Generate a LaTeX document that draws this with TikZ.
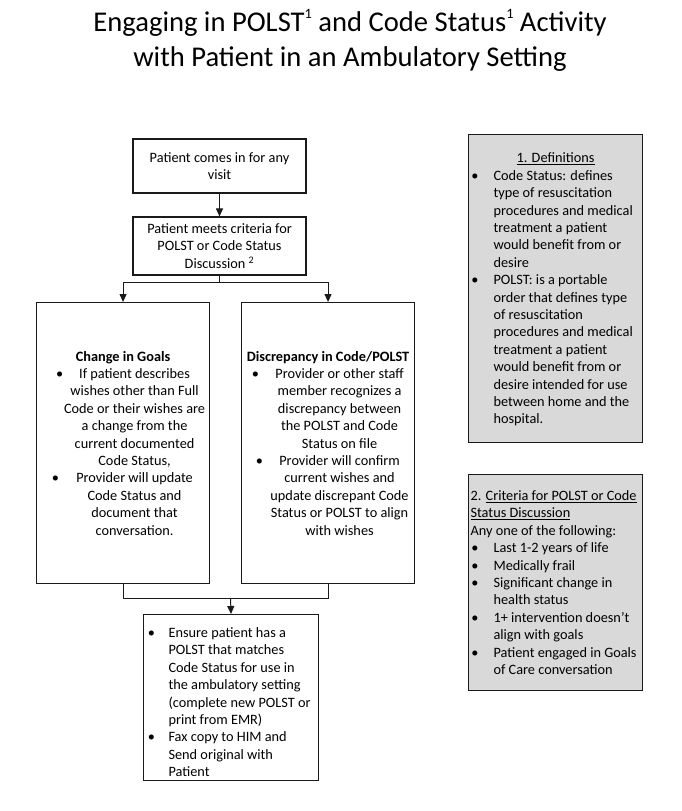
\documentclass[tikz,border=0pt]{standalone}
\usepackage{fontspec}
\setmainfont{Carlito}
\usetikzlibrary{arrows.meta}
\definecolor{boxgray}{HTML}{D9D9D9}
\definecolor{linecol}{HTML}{1A1A1A}
\newcommand\bitem[4]{\par\noindent\makebox[0pt][l]{\hspace*{#1pt}\textbullet}\hspace*{#2pt}\parbox[t]{#3pt}{#4\par\xdef\tpd{\the\prevdepth}}\par\prevdepth=\tpd\relax}
\newcommand\tsup[1]{\raisebox{13.4pt}{\fontsize{14.3}{14}\selectfont #1}}
\tikzset{
  box/.style={draw=linecol, line width=1.1pt, inner sep=0pt, font=\fontsize{14.3}{17.4}\selectfont},
  greybox/.style={box, fill=boxgray},
  conn/.style={draw=linecol, line width=1pt},
  arr/.style={conn, -{Triangle[width=7pt,length=8pt]}},
}
\begin{document}
\begin{tikzpicture}[x=1pt,y=-1pt]
\useasboundingbox (0,0) rectangle (682,811);
% title
\node[font=\fontsize{28.6}{35}\selectfont, align=center, anchor=base] (title) at (350,66.7)
  {Engaging in POLST\tsup{1} and Code Status\tsup{1} Activity\\with Patient in an Ambulatory Setting};
% flow boxes
\node[box, minimum width=173, minimum height=54, align=center] (visit) at (219.5,166)
  {Patient comes in for any\\visit};
\node[box, minimum width=173, minimum height=58, align=center] (crit) at (219.5,246)
  {Patient meets criteria for\\POLST or Code Status\\Discussion \textsuperscript{2}};
\node[box, anchor=north west] (goals) at (36,302) {\begin{minipage}[c][281pt][c]{173pt}
  {\centering\textbf{Change in Goals}\par}
  \bitem{19.5}{24}{148}{\centering If patient describes\\wishes other than Full\\Code or their wishes are\\a change from the\\current documented\\Code Status,}
  \bitem{15.3}{24}{148}{\centering Provider will update\\Code Status and\\document that\\conversation.}
\end{minipage}};
\node[box, anchor=north west] (disc) at (241,302) {\begin{minipage}[c][281pt][c]{173pt}
  {\centering\textbf{Discrepancy in Code/POLST}\par}
  \bitem{10.3}{24}{148}{\centering Provider or other staff\\member recognizes a\\discrepancy between\\the POLST and Code\\Status on file}
  \bitem{14.3}{24}{148}{\centering Provider will confirm\\current wishes and\\update discrepant Code\\Status or POLST to align\\with wishes}
\end{minipage}};
\node[box, anchor=north west] (ensure) at (143,614) {\begin{minipage}[c][166pt][t]{175pt}
  \vspace*{13pt}
  \bitem{4.3}{25}{148}{\raggedright Ensure patient has a\\POLST that matches\\Code Status for use in\\the ambulatory setting\\(complete new POLST or\\print from EMR)}
  \bitem{4.3}{25}{148}{\raggedright Fax copy to HIM and\\Send original with\\Patient}
\end{minipage}};
% side boxes
\node[greybox, anchor=north west] (defs) at (468,134) {\begin{minipage}[c][308pt][c]{174pt}
  \vspace*{2pt}
  {\centering\underline{1. Definitions}\par}
  \bitem{2.8}{25}{148}{\raggedright Code Status: defines\\type of resuscitation\\procedures and medical\\treatment a patient\\would benefit from or\\desire}
  \bitem{2.8}{25}{148}{\raggedright POLST: is a portable\\order that defines type\\of resuscitation\\procedures and medical\\treatment a patient\\would benefit from or\\desire intended for use\\between home and the\\hospital.}
\end{minipage}};
\node[greybox, anchor=north west] (crits) at (468,474) {\begin{minipage}[c][216pt][c]{174pt}
  \hspace*{2pt}2. \underline{Criteria for POLST or Code}\par
  \hspace*{2pt}\underline{Status Discussion}\par
  \hspace*{2pt}Any one of the following:\par
  \bitem{2.8}{25}{148}{\raggedright Last 1-2 years of life}
  \bitem{2.8}{25}{148}{\raggedright Medically frail}
  \bitem{2.8}{25}{148}{\raggedright Significant change in\\health status}
  \bitem{2.8}{25}{148}{\raggedright 1+ intervention doesn’t\\align with goals}
  \bitem{2.8}{25}{148}{\raggedright Patient engaged in Goals\\of Care conversation}
\end{minipage}};
% connectors
\coordinate (split) at (219.5,282);
\coordinate (merge) at (230.5,598);
\draw[arr] (visit) -- (crit);
\draw[conn] (crit.south) -- (split);
\draw[arr] (split) -| (goals.north);
\draw[arr] (split) -| (disc.north);
\draw[conn] (goals.south) |- (merge);
\draw[conn] (disc.south) |- (merge);
\draw[arr] (merge) -- (ensure.north);
\end{tikzpicture}
\end{document}
